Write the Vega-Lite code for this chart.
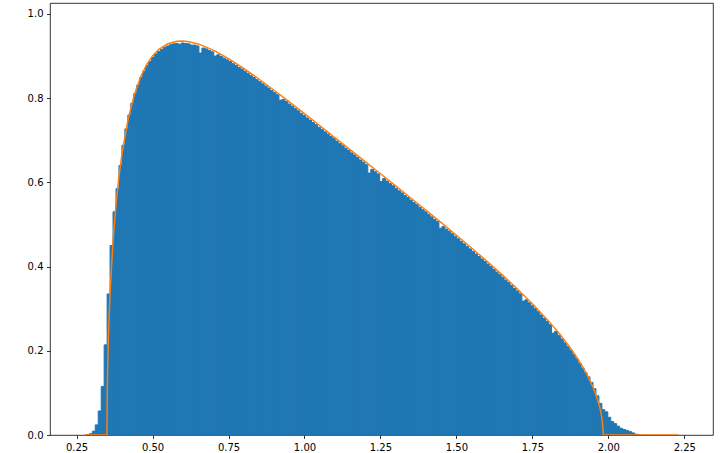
{
  "$schema": "https://vega.github.io/schema/vega-lite/v6.json",
  "autosize": "none",
  "width": 663,
  "height": 432,
  "padding": {"left": 50, "top": 3, "right": 15, "bottom": 18},
  "background": "white",
  "config": {
    "view": {"stroke": "black", "strokeWidth": 0.8},
    "axis": {
      "domain": false, "grid": false, "title": null,
      "labelFont": "DejaVu Sans", "labelFontSize": 10, "labelColor": "#000000",
      "tickColor": "#000000", "tickSize": 3.5, "tickWidth": 0.8, "labelPadding": 3.5
    }
  },
  "datasets": {
    "hist": [
      {"b0":0.28225,"b1":0.292,"d":0.001},
      {"b0":0.292,"b1":0.30175,"d":0.003},
      {"b0":0.30175,"b1":0.3115,"d":0.009},
      {"b0":0.3115,"b1":0.32125,"d":0.024},
      {"b0":0.32125,"b1":0.331,"d":0.057},
      {"b0":0.331,"b1":0.34075,"d":0.115},
      {"b0":0.34075,"b1":0.3505,"d":0.214},
      {"b0":0.3505,"b1":0.36025,"d":0.335},
      {"b0":0.36025,"b1":0.37,"d":0.45},
      {"b0":0.37,"b1":0.37975,"d":0.53},
      {"b0":0.37975,"b1":0.3895,"d":0.585},
      {"b0":0.3895,"b1":0.39925,"d":0.64},
      {"b0":0.39925,"b1":0.409,"d":0.688},
      {"b0":0.409,"b1":0.41875,"d":0.727},
      {"b0":0.41875,"b1":0.4285,"d":0.76},
      {"b0":0.4285,"b1":0.43825,"d":0.788},
      {"b0":0.43825,"b1":0.448,"d":0.811},
      {"b0":0.448,"b1":0.45775,"d":0.831},
      {"b0":0.45775,"b1":0.4675,"d":0.849},
      {"b0":0.4675,"b1":0.47725,"d":0.864},
      {"b0":0.47725,"b1":0.487,"d":0.877},
      {"b0":0.487,"b1":0.49675,"d":0.887},
      {"b0":0.49675,"b1":0.5065,"d":0.897},
      {"b0":0.5065,"b1":0.51625,"d":0.905},
      {"b0":0.51625,"b1":0.526,"d":0.911},
      {"b0":0.526,"b1":0.53575,"d":0.916},
      {"b0":0.53575,"b1":0.5455,"d":0.921},
      {"b0":0.5455,"b1":0.55525,"d":0.924},
      {"b0":0.55525,"b1":0.565,"d":0.927},
      {"b0":0.565,"b1":0.57475,"d":0.929},
      {"b0":0.57475,"b1":0.5845,"d":0.93},
      {"b0":0.5845,"b1":0.59425,"d":0.928},
      {"b0":0.59425,"b1":0.604,"d":0.931},
      {"b0":0.604,"b1":0.61375,"d":0.93},
      {"b0":0.61375,"b1":0.6235,"d":0.929},
      {"b0":0.6235,"b1":0.63325,"d":0.926},
      {"b0":0.63325,"b1":0.643,"d":0.926},
      {"b0":0.643,"b1":0.65275,"d":0.924},
      {"b0":0.65275,"b1":0.6625,"d":0.907},
      {"b0":0.6625,"b1":0.67225,"d":0.919},
      {"b0":0.67225,"b1":0.682,"d":0.917},
      {"b0":0.682,"b1":0.69175,"d":0.913},
      {"b0":0.69175,"b1":0.7015,"d":0.91},
      {"b0":0.7015,"b1":0.71125,"d":0.9},
      {"b0":0.71125,"b1":0.721,"d":0.903},
      {"b0":0.721,"b1":0.73075,"d":0.899},
      {"b0":0.73075,"b1":0.7405,"d":0.895},
      {"b0":0.7405,"b1":0.75025,"d":0.891},
      {"b0":0.75025,"b1":0.76,"d":0.887},
      {"b0":0.76,"b1":0.76975,"d":0.882},
      {"b0":0.76975,"b1":0.7795,"d":0.878},
      {"b0":0.7795,"b1":0.78925,"d":0.873},
      {"b0":0.78925,"b1":0.799,"d":0.869},
      {"b0":0.799,"b1":0.80875,"d":0.864},
      {"b0":0.80875,"b1":0.8185,"d":0.859},
      {"b0":0.8185,"b1":0.82825,"d":0.854},
      {"b0":0.82825,"b1":0.838,"d":0.849},
      {"b0":0.838,"b1":0.84775,"d":0.844},
      {"b0":0.84775,"b1":0.8575,"d":0.839},
      {"b0":0.8575,"b1":0.86725,"d":0.834},
      {"b0":0.86725,"b1":0.877,"d":0.829},
      {"b0":0.877,"b1":0.88675,"d":0.824},
      {"b0":0.88675,"b1":0.8965,"d":0.818},
      {"b0":0.8965,"b1":0.90625,"d":0.813},
      {"b0":0.90625,"b1":0.916,"d":0.808},
      {"b0":0.916,"b1":0.92575,"d":0.795},
      {"b0":0.92575,"b1":0.9355,"d":0.797},
      {"b0":0.9355,"b1":0.94525,"d":0.792},
      {"b0":0.94525,"b1":0.955,"d":0.786},
      {"b0":0.955,"b1":0.96475,"d":0.781},
      {"b0":0.96475,"b1":0.9745,"d":0.775},
      {"b0":0.9745,"b1":0.98425,"d":0.77},
      {"b0":0.98425,"b1":0.994,"d":0.764},
      {"b0":0.994,"b1":1.00375,"d":0.759},
      {"b0":1.00375,"b1":1.0135,"d":0.753},
      {"b0":1.0135,"b1":1.02325,"d":0.748},
      {"b0":1.02325,"b1":1.033,"d":0.742},
      {"b0":1.033,"b1":1.04275,"d":0.737},
      {"b0":1.04275,"b1":1.0525,"d":0.731},
      {"b0":1.0525,"b1":1.06225,"d":0.726},
      {"b0":1.06225,"b1":1.072,"d":0.72},
      {"b0":1.072,"b1":1.08175,"d":0.715},
      {"b0":1.08175,"b1":1.0915,"d":0.709},
      {"b0":1.0915,"b1":1.10125,"d":0.704},
      {"b0":1.10125,"b1":1.111,"d":0.698},
      {"b0":1.111,"b1":1.12075,"d":0.692},
      {"b0":1.12075,"b1":1.1305,"d":0.687},
      {"b0":1.1305,"b1":1.14025,"d":0.681},
      {"b0":1.14025,"b1":1.15,"d":0.676},
      {"b0":1.15,"b1":1.15975,"d":0.67},
      {"b0":1.15975,"b1":1.1695,"d":0.665},
      {"b0":1.1695,"b1":1.17925,"d":0.659},
      {"b0":1.17925,"b1":1.189,"d":0.653},
      {"b0":1.189,"b1":1.19875,"d":0.648},
      {"b0":1.19875,"b1":1.2085,"d":0.642},
      {"b0":1.2085,"b1":1.21825,"d":0.622},
      {"b0":1.21825,"b1":1.228,"d":0.631},
      {"b0":1.228,"b1":1.23775,"d":0.625},
      {"b0":1.23775,"b1":1.2475,"d":0.62},
      {"b0":1.2475,"b1":1.25725,"d":0.602},
      {"b0":1.25725,"b1":1.267,"d":0.609},
      {"b0":1.267,"b1":1.27675,"d":0.603},
      {"b0":1.27675,"b1":1.2865,"d":0.597},
      {"b0":1.2865,"b1":1.29625,"d":0.592},
      {"b0":1.29625,"b1":1.306,"d":0.586},
      {"b0":1.306,"b1":1.31575,"d":0.58},
      {"b0":1.31575,"b1":1.3255,"d":0.575},
      {"b0":1.3255,"b1":1.33525,"d":0.569},
      {"b0":1.33525,"b1":1.345,"d":0.564},
      {"b0":1.345,"b1":1.35475,"d":0.558},
      {"b0":1.35475,"b1":1.3645,"d":0.552},
      {"b0":1.3645,"b1":1.37425,"d":0.547},
      {"b0":1.37425,"b1":1.384,"d":0.541},
      {"b0":1.384,"b1":1.39375,"d":0.535},
      {"b0":1.39375,"b1":1.4035,"d":0.53},
      {"b0":1.4035,"b1":1.41325,"d":0.524},
      {"b0":1.41325,"b1":1.423,"d":0.518},
      {"b0":1.423,"b1":1.43275,"d":0.512},
      {"b0":1.43275,"b1":1.4425,"d":0.507},
      {"b0":1.4425,"b1":1.45225,"d":0.491},
      {"b0":1.45225,"b1":1.462,"d":0.495},
      {"b0":1.462,"b1":1.47175,"d":0.489},
      {"b0":1.47175,"b1":1.4815,"d":0.484},
      {"b0":1.4815,"b1":1.49125,"d":0.478},
      {"b0":1.49125,"b1":1.501,"d":0.472},
      {"b0":1.501,"b1":1.51075,"d":0.466},
      {"b0":1.51075,"b1":1.5205,"d":0.46},
      {"b0":1.5205,"b1":1.53025,"d":0.454},
      {"b0":1.53025,"b1":1.54,"d":0.448},
      {"b0":1.54,"b1":1.54975,"d":0.442},
      {"b0":1.54975,"b1":1.5595,"d":0.436},
      {"b0":1.5595,"b1":1.56925,"d":0.43},
      {"b0":1.56925,"b1":1.579,"d":0.424},
      {"b0":1.579,"b1":1.58875,"d":0.418},
      {"b0":1.58875,"b1":1.5985,"d":0.412},
      {"b0":1.5985,"b1":1.60825,"d":0.406},
      {"b0":1.60825,"b1":1.618,"d":0.4},
      {"b0":1.618,"b1":1.62775,"d":0.393},
      {"b0":1.62775,"b1":1.6375,"d":0.387},
      {"b0":1.6375,"b1":1.64725,"d":0.381},
      {"b0":1.64725,"b1":1.657,"d":0.375},
      {"b0":1.657,"b1":1.66675,"d":0.368},
      {"b0":1.66675,"b1":1.6765,"d":0.362},
      {"b0":1.6765,"b1":1.68625,"d":0.355},
      {"b0":1.68625,"b1":1.696,"d":0.348},
      {"b0":1.696,"b1":1.70575,"d":0.342},
      {"b0":1.70575,"b1":1.7155,"d":0.335},
      {"b0":1.7155,"b1":1.72525,"d":0.318},
      {"b0":1.72525,"b1":1.735,"d":0.321},
      {"b0":1.735,"b1":1.74475,"d":0.314},
      {"b0":1.74475,"b1":1.7545,"d":0.307},
      {"b0":1.7545,"b1":1.76425,"d":0.3},
      {"b0":1.76425,"b1":1.774,"d":0.293},
      {"b0":1.774,"b1":1.78375,"d":0.285},
      {"b0":1.78375,"b1":1.7935,"d":0.277},
      {"b0":1.7935,"b1":1.80325,"d":0.27},
      {"b0":1.80325,"b1":1.813,"d":0.262},
      {"b0":1.813,"b1":1.82275,"d":0.242},
      {"b0":1.82275,"b1":1.8325,"d":0.246},
      {"b0":1.8325,"b1":1.84225,"d":0.237},
      {"b0":1.84225,"b1":1.852,"d":0.228},
      {"b0":1.852,"b1":1.86175,"d":0.219},
      {"b0":1.86175,"b1":1.8715,"d":0.21},
      {"b0":1.8715,"b1":1.88125,"d":0.201},
      {"b0":1.88125,"b1":1.891,"d":0.191},
      {"b0":1.891,"b1":1.90075,"d":0.181},
      {"b0":1.90075,"b1":1.9105,"d":0.17},
      {"b0":1.9105,"b1":1.92025,"d":0.159},
      {"b0":1.92025,"b1":1.93,"d":0.148},
      {"b0":1.93,"b1":1.93975,"d":0.138},
      {"b0":1.93975,"b1":1.9495,"d":0.125},
      {"b0":1.9495,"b1":1.95925,"d":0.11},
      {"b0":1.95925,"b1":1.969,"d":0.093},
      {"b0":1.969,"b1":1.97875,"d":0.075},
      {"b0":1.97875,"b1":1.9885,"d":0.06},
      {"b0":1.9885,"b1":1.99825,"d":0.055},
      {"b0":1.99825,"b1":2.008,"d":0.042},
      {"b0":2.008,"b1":2.01775,"d":0.032},
      {"b0":2.01775,"b1":2.0275,"d":0.027},
      {"b0":2.0275,"b1":2.03725,"d":0.021},
      {"b0":2.03725,"b1":2.047,"d":0.016},
      {"b0":2.047,"b1":2.05675,"d":0.013},
      {"b0":2.05675,"b1":2.0665,"d":0.011},
      {"b0":2.0665,"b1":2.07625,"d":0.008},
      {"b0":2.07625,"b1":2.086,"d":0.005},
      {"b0":2.086,"b1":2.09575,"d":0.002},
      {"b0":2.09575,"b1":2.1055,"d":0.001}
    ],
    "curve": [
      {"x":0.277,"y":0},
      {"x":0.345,"y":0},
      {"x":0.3502,"y":0},
      {"x":0.3505,"y":0.0632},
      {"x":0.352,"y":0.1482},
      {"x":0.355,"y":0.2385},
      {"x":0.36,"y":0.3351},
      {"x":0.37,"y":0.4616},
      {"x":0.38,"y":0.5495},
      {"x":0.39,"y":0.6168},
      {"x":0.4,"y":0.6705},
      {"x":0.42,"y":0.7512},
      {"x":0.44,"y":0.808},
      {"x":0.46,"y":0.8491},
      {"x":0.48,"y":0.8789},
      {"x":0.5,"y":0.9003},
      {"x":0.52,"y":0.9154},
      {"x":0.55,"y":0.9291},
      {"x":0.58,"y":0.935},
      {"x":0.6,"y":0.9356},
      {"x":0.62,"y":0.9341},
      {"x":0.65,"y":0.9288},
      {"x":0.7,"y":0.914},
      {"x":0.75,"y":0.894},
      {"x":0.8,"y":0.8708},
      {"x":0.85,"y":0.8455},
      {"x":0.9,"y":0.8188},
      {"x":0.95,"y":0.7913},
      {"x":1.0,"y":0.7633},
      {"x":1.05,"y":0.735},
      {"x":1.1,"y":0.7064},
      {"x":1.15,"y":0.6778},
      {"x":1.2,"y":0.6492},
      {"x":1.25,"y":0.6205},
      {"x":1.3,"y":0.5917},
      {"x":1.35,"y":0.5628},
      {"x":1.4,"y":0.5337},
      {"x":1.45,"y":0.5043},
      {"x":1.5,"y":0.4745},
      {"x":1.55,"y":0.4441},
      {"x":1.6,"y":0.413},
      {"x":1.65,"y":0.3809},
      {"x":1.7,"y":0.3473},
      {"x":1.75,"y":0.3117},
      {"x":1.8,"y":0.2734},
      {"x":1.84,"y":0.2397},
      {"x":1.88,"y":0.2018},
      {"x":1.91,"y":0.1689},
      {"x":1.93,"y":0.1434},
      {"x":1.95,"y":0.1128},
      {"x":1.96,"y":0.0941},
      {"x":1.97,"y":0.0708},
      {"x":1.975,"y":0.0557},
      {"x":1.98,"y":0.0346},
      {"x":1.983,"y":0.0078},
      {"x":1.9832,"y":0},
      {"x":2.231,"y":0}
    ]
  },
  "layer": [
    {
      "data": {"name": "hist"},
      "mark": {"type": "bar", "color": "#1f77b4", "stroke": "#1f77b4", "strokeWidth": 1, "orient": "vertical"},
      "encoding": {
        "x": {"field": "b0", "type": "quantitative",
              "scale": {"domain": [0.179, 2.328], "nice": false, "zero": false},
              "axis": {"values": [0.25, 0.5, 0.75, 1.0, 1.25, 1.5, 1.75, 2.0, 2.25], "format": ".2f"}},
        "x2": {"field": "b1"},
        "y": {"field": "d", "type": "quantitative",
              "scale": {"domain": [0, 1.026], "nice": false, "zero": true},
              "axis": {"values": [0, 0.2, 0.4, 0.6, 0.8, 1.0], "format": ".1f"}},
        "y2": {"datum": 0}
      }
    },
    {
      "data": {"name": "curve"},
      "mark": {"type": "line", "color": "#ff7f0e", "strokeWidth": 1.5, "clip": true},
      "encoding": {
        "x": {"field": "x", "type": "quantitative"},
        "y": {"field": "y", "type": "quantitative"}
      }
    }
  ]
}
